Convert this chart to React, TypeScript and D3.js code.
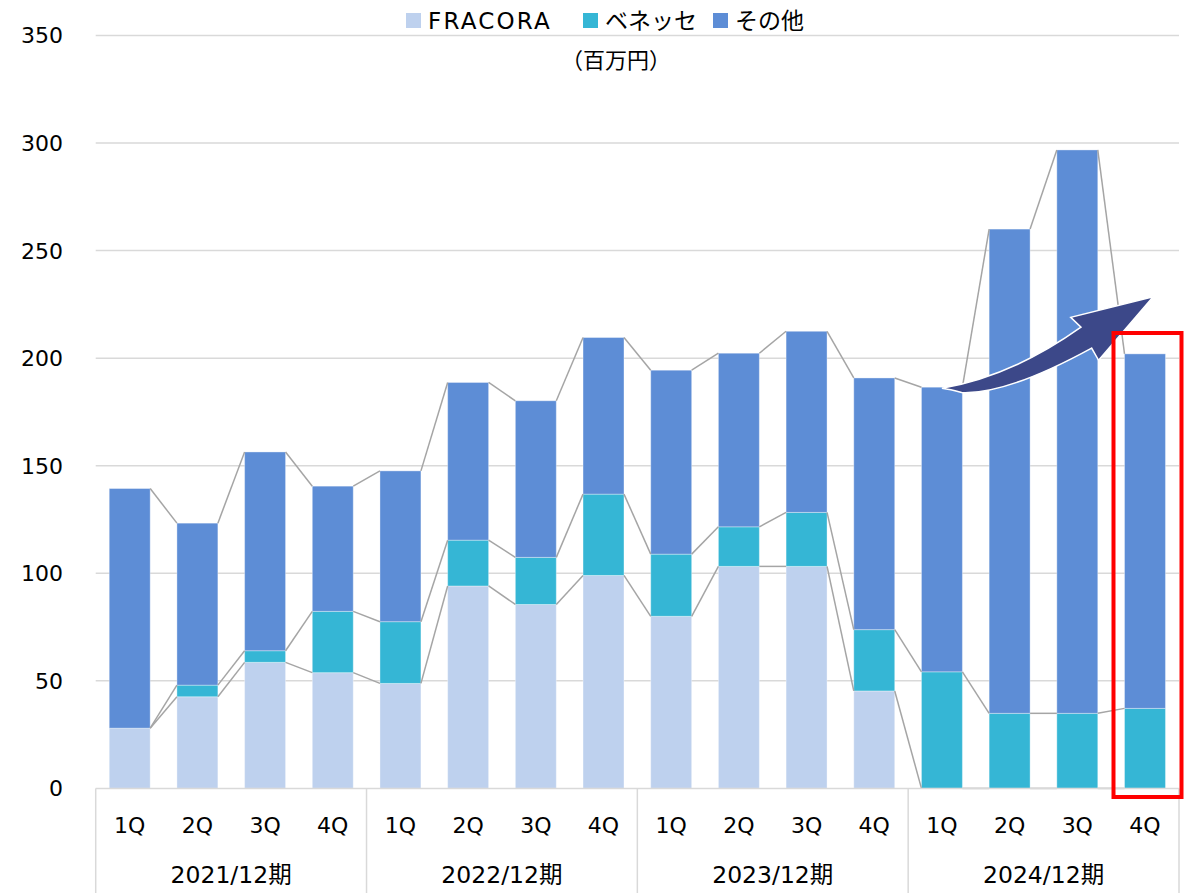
import React from "react";
import * as d3 from "d3";

const quarters = ["1Q", "2Q", "3Q", "4Q"];
const years = ["2021/12期", "2022/12期", "2023/12期", "2024/12期"];
const seriesNames = ["FRACORA", "ベネッセ", "その他"];
const fracora = [28, 42.6, 58.6, 53.8, 48.8, 94.1, 85.5, 99.0, 80.0, 103.2, 103.2, 45.3, 0, 0, 0, 0];
const benesse = [0, 5.4, 5.4, 28.5, 28.7, 21.3, 21.9, 37.8, 28.9, 18.4, 25.1, 28.5, 54.2, 34.9, 34.9, 37.2];
const others = [111.4, 75.3, 92.4, 58.2, 70.1, 73.3, 72.8, 72.8, 85.5, 80.7, 84.2, 117.0, 132.3, 225.1, 261.9, 164.8];
const yTicks = [0, 50, 100, 150, 200, 250, 300, 350];
const colors = ["#bed1ee", "#35b6d5", "#5d8dd6"];

const W = 1196;
const H = 893;
const left = 95.7;
const right = 1179;
const top = 35.5;
const bottom = 788.4;

const cats = years.flatMap((y) => quarters.map((q) => `${y}-${q}`));

const App = () => {
  const x = d3.scaleBand<string>().domain(cats).range([left, right]).paddingInner(0.395).paddingOuter(0.2);
  const y = d3.scaleLinear().domain([0, 350]).range([bottom, top]);
  const groupW = (right - left) / years.length;

  const table = cats.map((c, i) => ({ cat: c, v0: fracora[i], v1: benesse[i], v2: others[i] }));
  const stack = d3.stack<any>().keys(["v0", "v1", "v2"])(table);

  const bw = x.bandwidth();
  const font = "'DejaVu Sans', 'Noto Sans CJK JP', sans-serif";

  // growth arrow, anchored to the 2024 bars
  const b12 = x(cats[12])!;
  const b14 = x(cats[14])!;
  const b15 = x(cats[15])!;
  const tail = [b12 + bw * 0.5, y(186)];
  const tailLow = [b12 + bw * 0.98, y(184)];
  const neckA = [b14 + bw * 0.59, y(214.4)];
  const headA = [b14 + bw * 0.34, y(219)];
  const tip = [b15 + bw * 0.7, y(228.5)];
  const headB = [b14 + bw * 1.02, y(199)];
  const neckB = [b14 + bw * 0.85, y(204.7)];
  const arrowPath =
    `M${tail[0]},${tail[1]} Q${tail[0] + 70},${tail[1] - 12} ${neckA[0]},${neckA[1]} ` +
    `L${headA[0]},${headA[1]} L${tip[0]},${tip[1]} L${headB[0]},${headB[1]} L${neckB[0]},${neckB[1]} ` +
    `Q${tailLow[0] + 45},${tailLow[1] + 2} ${tailLow[0]},${tailLow[1]} Q${tail[0] + 8},${tail[1] + 1} ${tail[0]},${tail[1]} Z`;

  return (
    <svg width={W} height={H} style={{ display: "block", position: "absolute", left: 0, top: 0 }}>
      <rect width={W} height={H} fill="#fff" />
      {yTicks.map((t) => (
        <g key={t}>
          {t > 0 && <line x1={left} x2={right} y1={y(t)} y2={y(t)} stroke="#d9d9d9" strokeWidth={1.5} />}
          <text x={63} y={y(t)} dy="0.36em" textAnchor="end" fontSize={22} fontFamily={font} fill="#000">
            {t}
          </text>
        </g>
      ))}
      {stack.map((s, si) => (
        <g key={si}>
          {s.map((d, i) => (
            <rect
              key={i}
              x={x(cats[i])}
              y={y(d[1])}
              width={bw}
              height={Math.max(0, y(d[0]) - y(d[1]))}
              fill={colors[si]}
              stroke="#ffffff"
              strokeOpacity={0.35}
              strokeWidth={1}
            />
          ))}
        </g>
      ))}
      {stack.map((s, si) => (
        <g key={"l" + si}>
          {s.slice(0, -1).map((d, i) => (
            <line
              key={i}
              x1={x(cats[i])! + bw}
              y1={y(d[1])}
              x2={x(cats[i + 1])!}
              y2={y(s[i + 1][1])}
              stroke="#a5a5a5"
              strokeWidth={1.5}
            />
          ))}
        </g>
      ))}
      {/* category axis */}
      <line x1={left} x2={right} y1={bottom} y2={bottom} stroke="#d9d9d9" strokeWidth={1.5} />
      {d3.range(years.length + 1).map((k) => (
        <line key={k} x1={left + k * groupW} x2={left + k * groupW} y1={bottom} y2={H} stroke="#d9d9d9" strokeWidth={1.5} />
      ))}
      {cats.map((c, i) => (
        <text key={c} x={x(c)! + bw / 2} y={825} dy="0.36em" textAnchor="middle" fontSize={22} fontFamily={font}>
          {quarters[i % 4]}
        </text>
      ))}
      {years.map((yr, k) => (
        <text key={yr} x={left + (k + 0.5) * groupW} y={875} dy="0.36em" textAnchor="middle" fontSize={23.5} fontFamily={font}>
          {yr}
        </text>
      ))}
      {/* legend */}
      {seriesNames.map((n, i) => {
        const lx = [406, 583, 713][i];
        return (
          <g key={n}>
            <rect x={lx} y={13} width={15} height={15} fill={colors[i]} />
            <text
              x={lx + 22}
              y={20.5}
              dy="0.36em"
              fontSize={23}
              fontFamily={font}
              letterSpacing={i === 0 ? 2.2 : 0}
            >
              {n}
            </text>
          </g>
        );
      })}
      <text x={616} y={60} dy="0.36em" textAnchor="middle" fontSize={22} fontFamily={font}>
        （百万円）
      </text>
      <path d={arrowPath} fill="#3c4889" stroke="#fff" strokeWidth={1.5} strokeLinejoin="miter" />
      <rect x={1113.5} y={333} width={68} height={464} fill="none" stroke="#ff0000" strokeWidth={4} />
    </svg>
  );
};

export default App;
